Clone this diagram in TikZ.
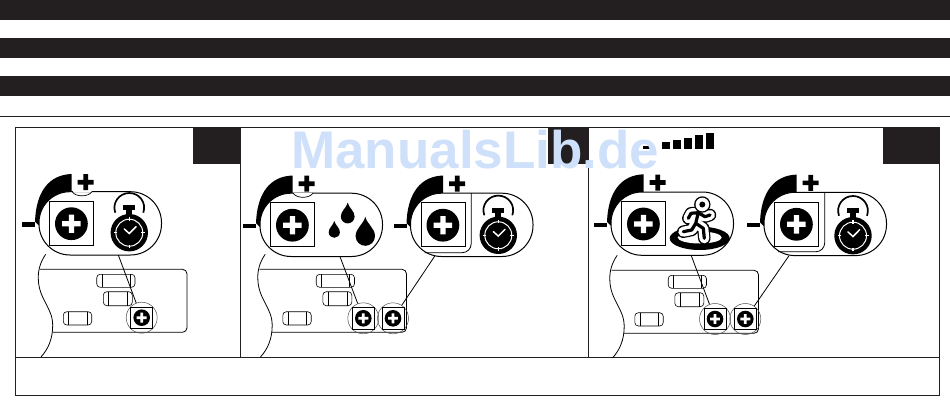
\documentclass[tikz,border=0pt]{standalone}
\usepackage{fontspec}
\newfontfamily\markfont{Liberation Sans}
\usepackage{xcolor}
\definecolor{barblack}{HTML}{231F20}
\definecolor{markblue}{HTML}{CFE1FA}

\begin{document}
\begin{tikzpicture}[
    x=1pt, y=-1pt,
    Barbox/.style={fill=barblack},
    Frameln/.style={line width=1pt, barblack},
    Pillbox/.style={fill=white, draw=black, line width=1pt, rounded corners=31pt},
    Keybox/.style={draw=black, line width=0.7pt},
    Slotbox/.style={draw=black, line width=0.6pt, rounded corners=3.5pt},
    Baseln/.style={draw=black, line width=0.8pt},
    leader/.style={draw=black, line width=0.8pt},
    ringnd/.style={circle, draw=black!70, line width=0.5pt, minimum size=31pt, inner sep=0pt},
    plusmark/.pic={
        \fill[pic actions] (-8,-2.3) rectangle (8,2.3) (-2.3,-8) rectangle (2.3,8);
    },
    knob/.pic={
        \fill[black] (-4,30) .. controls (-3,0) and (10,-17) .. (32.7,-17.7) -- (32.7,10) -- (0,34) -- cycle;
        \fill[black] (-17,30.6) rectangle (-4,35);
        \pic[fill=black] at (46.7,-9.5) {plusmark};
        \draw[Pillbox] (0,0) rectangle (122.5,63.3);
        \draw[Keybox] (10.7,9.6) rectangle (54.7,53.6);
        \fill[black] (32.4,32) circle[radius=16.4pt];
        \pic[fill=white, scale=1.15] at (32.4,32) {plusmark};
    },
    notch/.pic={
        \draw[white, line width=1.4pt] (33.5,0) -- (53,0);
        \draw[black, line width=0.7pt] (33,0) .. controls (37,5.5) and (49,5.5) .. (53,0);
    },
    divider/.pic={
        \draw[black, line width=0.8pt, rounded corners=9pt] (60.7,0) -- (60.7,59.5) -- (14,59.5);
    },
    stopwatch/.pic={
        \draw[black, line width=1.7pt] (14,-20) .. controls (17.5,-30) and (10,-39.7) .. (0,-39.7)
            .. controls (-10,-39.7) and (-17.5,-30) .. (-14,-20);
        \fill[black] (-6,-27.7) rectangle (5.8,-22.7);
        \fill[black] (-3,-23) rectangle (3,-17);
        \fill[black] (0,0) circle[radius=18.7pt];
        \draw[white, line width=1pt] (0,0) circle[radius=13.5pt];
        \foreach \tx/\ty in {0/-1,0/1,-1/0,1/0}
            \draw[white, line width=1.2pt] (12*\tx,12*\ty) -- (15.5*\tx,15.5*\ty);
        \draw[white, line width=1.5pt, line cap=round] (-5,-3.7) -- (0,0.8) -- (6.7,-6);
    },
    slotbase/.pic={
        \draw[Baseln] (5.7,-15) .. controls (0,-7) and (-2,2) .. (-1.7,9)
            .. controls (-1.5,30) and (12.7,38) .. (12.7,56)
            .. controls (12.7,70) and (8,80) .. (1,87.6);
        \draw[Baseln, rounded corners=4.5pt] (0,0) -- (147,0) -- (147,63) -- (12.7,63);
        \foreach \xa/\ya/\xb/\yb in {56.7/5/95/18, 63.3/22.4/92.3/36.4, 23.3/42.4/51.7/55.7}{
            \draw[Slotbox] (\xa,\ya) rectangle (\xb,\yb);
            \draw[black, line width=0.4pt] (\xa+5,\ya) -- (\xa+5,\yb) (\xb-5,\ya) -- (\xb-5,\yb);
        }
    },
    minibtn/.pic={
        \draw[Keybox] (-11,-10.7) rectangle (11,10.7);
        \fill[black] (0,0) circle[radius=8.3pt];
        \pic[fill=white, scale=0.62] at (0,0) {plusmark};
    },
    drop/.pic={
        \fill[black] (0,0) .. controls (2,8) and (10,12) .. (10,20)
            .. controls (10,26) and (5,30) .. (0,30)
            .. controls (-5,30) and (-10,26) .. (-10,20)
            .. controls (-10,12) and (-2,8) .. (0,0) -- cycle;
    },
]
\useasboundingbox (0,0) rectangle (950,404);

\fill[Barbox] (0,0) rectangle (950,20);
\fill[Barbox] (0,38) rectangle (950,58);
\fill[Barbox] (0,76) rectangle (950,96);
\draw[Frameln] (0,116.5) -- (950,116.5);

\fill[Barbox] (193,127.5) rectangle (240.5,164);
\fill[Barbox] (548,127.5) rectangle (588.5,164);
\fill[Barbox] (883,127.5) rectangle (939,164);

\draw[Frameln] (15.5,127.5) rectangle (939,395);
\draw[Frameln] (15.5,357) -- (939,357);
\draw[Frameln] (240.5,127.5) -- (240.5,357);
\draw[Frameln] (588.5,127.5) -- (588.5,357);

\foreach \bx/\by in {643/146, 662/141.7, 673/140, 684/137.7, 695/135, 706/132.5}
    \fill[black] (\bx,\by) rectangle (\bx+8,149);

\pic at (40,269.3) {slotbase};
\pic at (259.5,269.3) {slotbase};
\pic at (611.5,270.3) {slotbase};

\pic at (39,191.7) {knob};
\pic at (39,191.7) {notch};
\pic at (129.3,232.7) {stopwatch};

\pic at (260,193.2) {knob};
\pic at (260,193.2) {notch};
\pic[scale=0.69] at (347.7,202.7) {drop};
\pic[scale=0.56] at (334.3,221) {drop};
\pic[scale=0.97] at (365.3,216.7) {drop};

\pic at (410.5,193.2) {knob};
\pic at (410.5,193.2) {divider};
\pic at (498.3,235.3) {stopwatch};

\pic at (611,192) {knob};
\fill[black] (699.7,238.3) ellipse[x radius=30pt, y radius=11.7pt];
\fill[white] (699.7,237.5) ellipse[x radius=22pt, y radius=6pt];
\foreach \lw/\col in {12.5/black, 10/white, 3.2/black}{
    \draw[\col, line width=\lw pt, line join=round, line cap=round]
        (698.3,212.7) -- (695.7,223.3)
        (691,213.3) -- (698.3,212.7) -- (705,216.7) -- (710,215)
        (691,213.3) -- (688.3,218.3)
        (695.7,223.3) -- (703.3,228.3) -- (704.3,238.3)
        (695.7,223.3) -- (691.7,230) -- (683.3,231.7);
}
\fill[black] (702.3,204.5) circle[radius=8.2pt];
\fill[white] (702.3,204.5) circle[radius=6.8pt];
\fill[black] (702.3,204.5) circle[radius=3pt];

\pic at (764,192.3) {knob};
\pic at (764,192.3) {divider};
\pic at (853,235.7) {stopwatch};

\node[ringnd] (btnA) at (141.7,317.7) {};
\node[ringnd] (btnB) at (363.3,318.3) {};
\node[ringnd] (btnC) at (393,318.3) {};
\node[ringnd] (btnD) at (715,319) {};
\node[ringnd] (btnE) at (745.3,319) {};
\foreach \nd in {btnA,btnB,btnC,btnD,btnE}
    \pic at (\nd) {minibtn};

\coordinate (ptrA) at (118.3,255);
\coordinate (ptrB) at (340,256.7);
\coordinate (ptrC) at (435,255.7);
\coordinate (ptrD) at (691.3,255.7);
\coordinate (ptrE) at (789,255.7);
\draw[leader] (ptrA) -- (btnA);
\draw[leader] (ptrB) -- (btnB);
\draw[leader] (ptrC) -- (btnC);
\draw[leader] (ptrD) -- (btnD);
\draw[leader] (ptrE) -- (btnE);

\node[text=markblue, font=\markfont\bfseries\fontsize{53}{53}\selectfont, inner sep=0pt, anchor=base west] (wmark) at (291,168.3) {ManualsLib.de};
\end{tikzpicture}
\end{document}
